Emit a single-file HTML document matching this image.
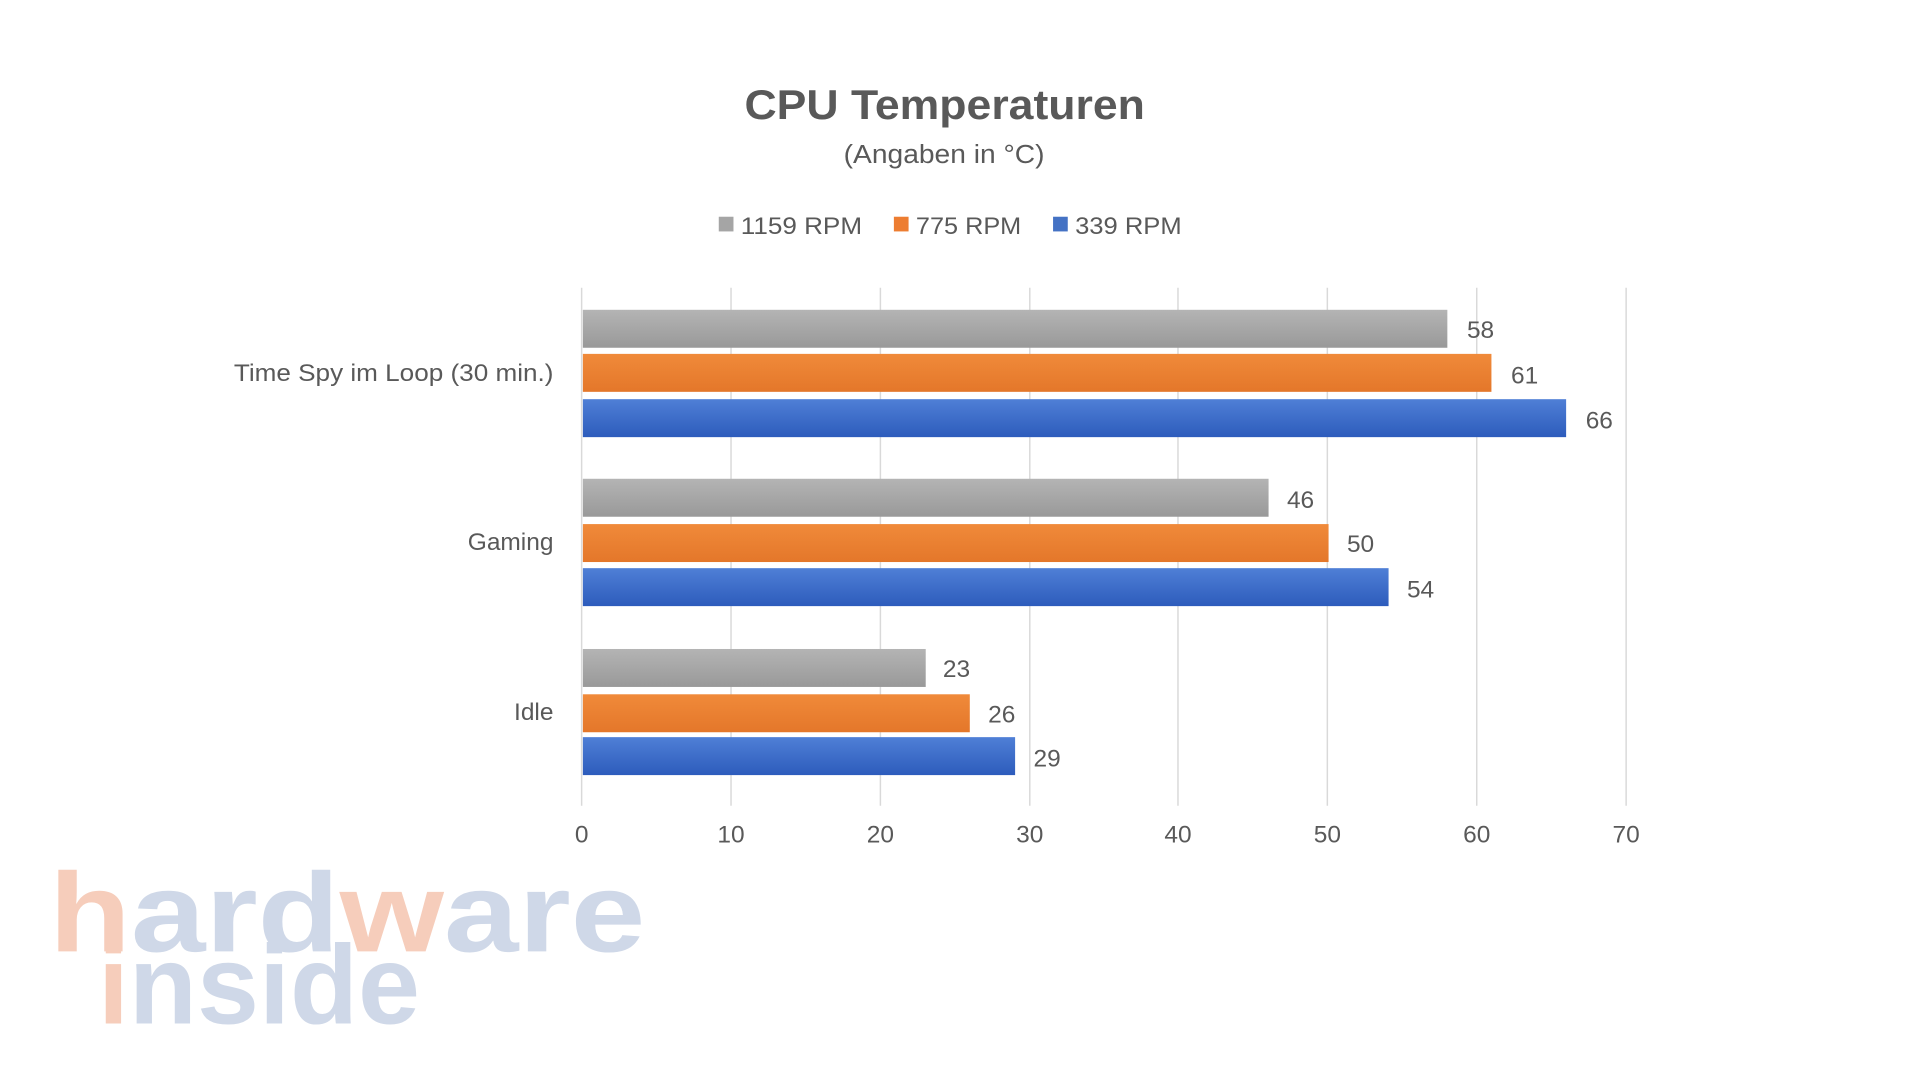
<!DOCTYPE html>
<html><head><meta charset="utf-8"><style>
html,body{margin:0;padding:0;background:#fff;width:1920px;height:1080px;overflow:hidden}
svg{display:block}
text{font-family:"Liberation Sans","DejaVu Sans",sans-serif;fill:#595959}
</style></head><body>
<svg width="1920" height="1080" viewBox="0 0 1568 882" xmlns="http://www.w3.org/2000/svg">
<defs>
<linearGradient id="gg" x1="0" y1="0" x2="0" y2="1"><stop offset="0" stop-color="#b4b4b4"/><stop offset="1" stop-color="#999"/></linearGradient>
<linearGradient id="go" x1="0" y1="0" x2="0" y2="1"><stop offset="0" stop-color="#f08a3a"/><stop offset="1" stop-color="#e4772a"/></linearGradient>
<linearGradient id="gb" x1="0" y1="0" x2="0" y2="1"><stop offset="0" stop-color="#4f7fd6"/><stop offset="1" stop-color="#2d5cbc"/></linearGradient>
</defs>
<rect width="1568" height="882" fill="#fff"/>
<text x="608" y="97" font-size="34" font-weight="bold" textLength="327" lengthAdjust="spacingAndGlyphs">CPU Temperaturen</text>
<text x="689" y="133" font-size="21" textLength="164" lengthAdjust="spacingAndGlyphs">(Angaben in °C)</text>
<rect x="587" y="177" width="12" height="12" fill="#a5a5a5"/><text x="605" y="191" font-size="20" textLength="99" lengthAdjust="spacingAndGlyphs">1159 RPM</text>
<rect x="730" y="177" width="12" height="12" fill="#ed7d31"/><text x="748" y="191" font-size="20" textLength="86" lengthAdjust="spacingAndGlyphs">775 RPM</text>
<rect x="860" y="177" width="12" height="12" fill="#4472c4"/><text x="878" y="191" font-size="20" textLength="87" lengthAdjust="spacingAndGlyphs">339 RPM</text>
<g stroke="#d9d9d9" stroke-width="1.2">
<line x1="475" y1="235" x2="475" y2="658"/><line x1="597" y1="235" x2="597" y2="658"/><line x1="719" y1="235" x2="719" y2="658"/><line x1="841" y1="235" x2="841" y2="658"/><line x1="962" y1="235" x2="962" y2="658"/><line x1="1084" y1="235" x2="1084" y2="658"/><line x1="1206" y1="235" x2="1206" y2="658"/><line x1="1328" y1="235" x2="1328" y2="658"/>
</g>
<g font-size="20" text-anchor="middle">
<text x="475" y="688">0</text><text x="597" y="688">10</text><text x="719" y="688">20</text><text x="841" y="688">30</text><text x="962" y="688">40</text><text x="1084" y="688">50</text><text x="1206" y="688">60</text><text x="1328" y="688">70</text>
</g>
<g font-size="20">
<text x="191" y="311" textLength="261" lengthAdjust="spacingAndGlyphs">Time Spy im Loop (30 min.)</text>
<text x="452" y="449" text-anchor="end">Gaming</text>
<text x="452" y="588" text-anchor="end">Idle</text>
</g>
<g>
<rect x="476" y="253" width="706" height="31" fill="url(#gg)"/>
<rect x="476" y="289" width="742" height="31" fill="url(#go)"/>
<rect x="476" y="326" width="803" height="31" fill="url(#gb)"/>
<rect x="476" y="391" width="560" height="31" fill="url(#gg)"/>
<rect x="476" y="428" width="609" height="31" fill="url(#go)"/>
<rect x="476" y="464" width="658" height="31" fill="url(#gb)"/>
<rect x="476" y="530" width="280" height="31" fill="url(#gg)"/>
<rect x="476" y="567" width="316" height="31" fill="url(#go)"/>
<rect x="476" y="602" width="353" height="31" fill="url(#gb)"/>
</g>
<g font-size="20">
<text x="1198" y="276">58</text><text x="1234" y="313">61</text><text x="1295" y="350">66</text>
<text x="1051" y="415">46</text><text x="1100" y="451">50</text><text x="1149" y="488">54</text>
<text x="770" y="553">23</text><text x="807" y="590">26</text><text x="844" y="626">29</text>
</g>
<g font-size="92" font-weight="bold">
<text x="40" y="777" textLength="487" lengthAdjust="spacingAndGlyphs" style="fill:#f6cdbb">h<tspan style="fill:#cfd8e8">ard</tspan>w<tspan style="fill:#cfd8e8">are</tspan></text>
<text x="80" y="836" textLength="263" lengthAdjust="spacingAndGlyphs" style="fill:#f6cdbb">i<tspan style="fill:#cfd8e8">nside</tspan></text>
</g>
</svg>
</body></html>
